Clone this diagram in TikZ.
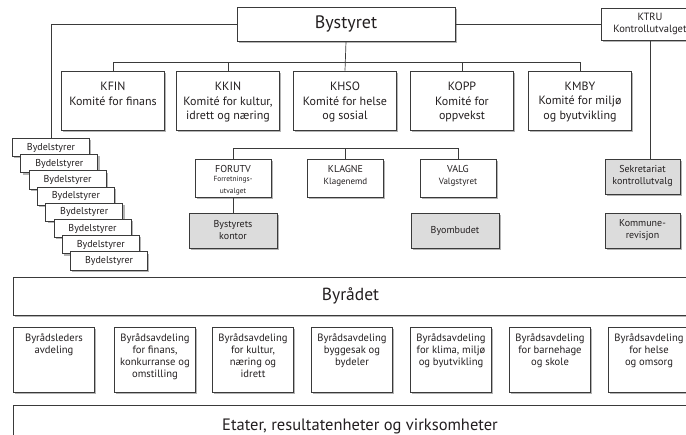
\documentclass[tikz,border=0pt]{standalone}
\usepackage{fontspec}
\setmainfont{PT Sans}
\usepackage{tikz}
\usetikzlibrary{shadows}

\definecolor{linec}{HTML}{3A3A3A}
\definecolor{textc}{HTML}{231F20}
\definecolor{boxgrey}{HTML}{DCDCDC}

\tikzset{
  orgbox/.style={draw=linec, line width=0.7pt, fill=white, inner sep=0pt,
                 text=textc,
                 drop shadow={shadow xshift=1.8pt, shadow yshift=-1.8pt,
                              fill=black!65, opacity=0.45}},
  greybox/.style={orgbox, fill=boxgrey},
  toptext/.style n args={2}{execute at begin node={\begin{minipage}[t][#1]{#2}\centering},
                            execute at end node={\end{minipage}}},
  kombox/.style={orgbox, minimum width=103, minimum height=59, inner ysep=11pt,
                 font=\fontsize{12}{14.5}\selectfont, toptext={37pt}{100pt}},
  utvbox/.style={orgbox, minimum width=76, minimum height=38, inner ysep=6pt,
                 font=\fontsize{10}{12}\selectfont, toptext={26pt}{74pt}},
  avdbox/.style={orgbox, minimum width=81, minimum height=65, inner ysep=7pt,
                 font=\fontsize{10.6}{11.8}\selectfont, toptext={51pt}{80pt}},
  smallbox/.style={greybox, minimum width=88, minimum height=35, align=center,
                   font=\fontsize{10}{12}\selectfont},
  bydelbox/.style={orgbox, minimum width=77, minimum height=18.3,
                   font=\fontsize{10}{11}\selectfont},
  orgline/.style={draw=linec, line width=0.7pt}
}

\begin{document}
\begin{tikzpicture}[x=1pt, y=-1pt]
\useasboundingbox (0,0) rectangle (686,435);
\clip (0,7.4) rectangle (686,435);

\node[orgbox, minimum width=218, minimum height=34,
      font=\fontsize{18}{20}\selectfont] (bystyret) at (346,24) {Bystyret};
\node[orgbox, minimum width=97, minimum height=32, align=center,
      font=\fontsize{10.5}{12}\selectfont] (ktru) at (650,24) {KTRU\\Kontrollutvalget};

\foreach \x/\name/\txt in {113/kfin/{KFIN\\Komité for finans},
                           228/kkin/{KKIN\\Komité for kultur,\\idrett og næring},
                           345/khso/{KHSO\\Komité for helse\\og sosial},
                           462/kopp/{KOPP\\Komité for\\oppvekst},
                           580/kmby/{KMBY\\Komité for miljø\\og byutvikling}}
  \node[kombox] (\name) at (\x,100.5) {\txt};

\foreach \i in {1,...,8}
  \node[bydelbox] (bydel\i) at ({51+8.3*(\i-1)},{147.5+16.2*(\i-1)}) {Bydelstyrer};

\node[utvbox] (forutv) at (233,178)
  {FORUTV\\\fontsize{7.4}{9.5}\selectfont Forretnings-\\utvalget};
\node[utvbox] (klagne) at (345.5,178)
  {KLAGNE\\\fontsize{9}{10.5}\selectfont Klagenemd};
\node[utvbox] (valg) at (458,178)
  {VALG\\\fontsize{9}{10.5}\selectfont Valgstyret};

\node[smallbox] (kontor) at (233,230.5) {Bystyrets\\kontor};
\node[smallbox] (byombud) at (455,230.5) {Byombudet};
\node[smallbox, minimum width=75] (sekr) at (642.5,176.5) {Sekretariat\\kontrollutvalg};
\node[smallbox, minimum width=75] (komrev) at (642.5,230.5) {Kommune-\\revisjon};

\node[orgbox, minimum width=675, minimum height=38,
      font=\fontsize{17.5}{20}\selectfont] (byradet) at (350.5,296) {Byrådet};

\foreach \x/\name/\txt in {54/avd1/{Byrådsleders\\avdeling},
                           155/avd2/{Byrådsavdeling\\for finans,\\konkurranse og\\omstilling},
                           253/avd3/{Byrådsavdeling\\for kultur,\\næring og\\idrett},
                           352/avd4/{Byrådsavdeling\\byggesak og\\bydeler},
                           451/avd5/{Byrådsavdeling\\for klima, miljø\\og byutvikling},
                           550/avd6/{Byrådsavdeling\\for barnehage\\og skole},
                           649/avd7/{Byrådsavdeling\\for helse\\og omsorg}}
  \node[avdbox] (\name) at (\x,359.5) {\txt};

\node[orgbox, minimum width=694, minimum height=42,
      font=\fontsize{16.5}{18}\selectfont] (etater) at (360,426)
  {Etater, resultatenheter og virksomheter};

\coordinate (kombar) at (0,62);
\coordinate (utvbar) at (0,148);

\draw[orgline] (bystyret.west) -| (bydel1.north);
\draw[orgline] (bystyret.east) -- (ktru.west);
\draw[orgline] (bystyret.south) -- (khso.north);
\draw[orgline] (kfin.north) -- (kfin.north |- kombar) -- (kmby.north |- kombar) -- (kmby.north);
\foreach \k in {kkin,kopp}
  \draw[orgline] (\k.north) -- (\k.north |- kombar);

\draw[orgline] (forutv.north) -- (forutv.north |- utvbar) -- (valg.north |- utvbar) -- (valg.north);
\draw[orgline] (klagne.north) -- (klagne.north |- utvbar);
\draw[orgline] (forutv.south) -- (kontor.north);
\draw[orgline] (ktru.south) -- (ktru.south |- sekr.north);
\end{tikzpicture}
\end{document}
